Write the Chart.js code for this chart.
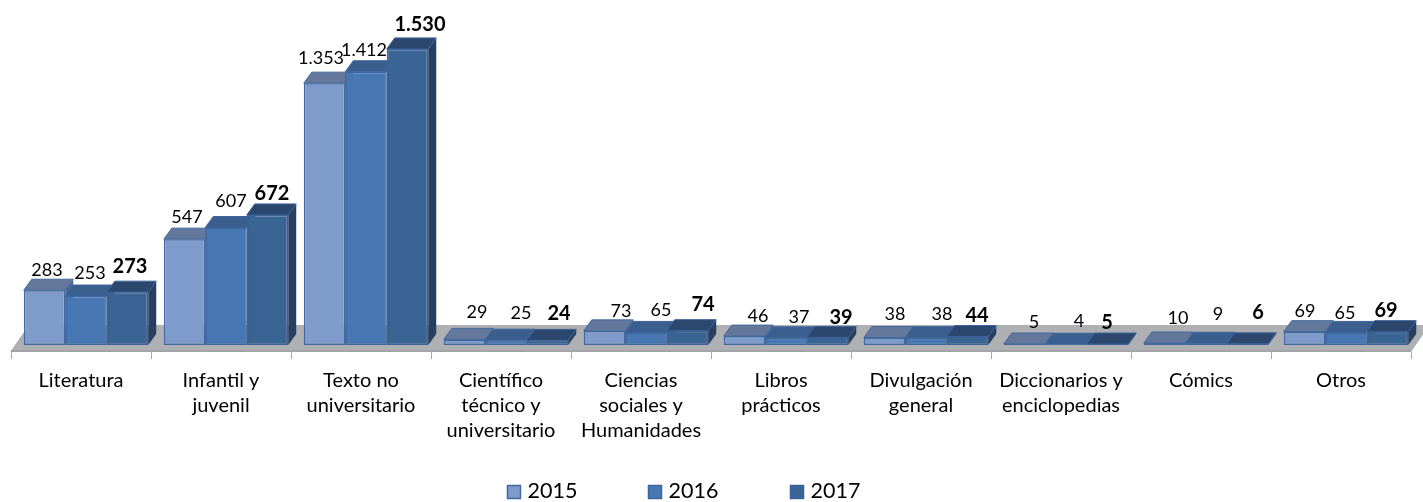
<!DOCTYPE html>
<html><head><meta charset="utf-8">
<style>html,body{margin:0;padding:0;background:#fff}#w{width:1423px;height:502px}</style>
<script src="https://cdn.jsdelivr.net/npm/chart.js@4"></script></head>
<body><div id="w"><canvas id="c"></canvas></div>
<script>
const categories=[["Literatura"],["Infantil y","juvenil"],["Texto no","universitario"],["Científico","técnico y","universitario"],["Ciencias","sociales y","Humanidades"],["Libros","prácticos"],["Divulgación","general"],["Diccionarios y","enciclopedias"],["Cómics"],["Otros"]];
const series2015=[283,547,1353,29,73,46,38,5,10,69];
const series2016=[253,607,1412,25,65,37,38,4,9,65];
const series2017=[273,672,1530,24,74,39,44,5,6,69];
const seriesNames=["2015","2016","2017"];
// hand placement of the value labels relative to each bar
const labelDx=[[2.5,2.5,-3.5,12.5,16.5,13.5,10.5,9.5,13.5,0.5],[4,5,-2,15,15,13,16,13,12,-1],[2.5,4.5,12.5,11.5,15.5,13.5,9.5,-0.5,10.5,-1.5]];
const labelDy=[[20,22,25,27,20,20,23,22,25,20],[23,26,22,27,22,21,23,23,29,19],[26,21,24,27,26,20,21,21,31,21]];
const FONT='Lato, "Open Sans", sans-serif';
const front=['#7F9BCB','#4878B4','#3A6494'],top3=['#64789B','#3A5F8F','#2C476E'],side=['#4A6690','#2F507C','#273F61'],edge=['#41689F','#3D659F','#3A6298'];
const DX=8,DY=11;
const fmt=v=>String(v).replace(/\B(?=(\d{3})+$)/g,'.');
const poly=(ctx,p,fill,stroke)=>{ctx.beginPath();p.forEach((q,i)=>i?ctx.lineTo(q[0],q[1]):ctx.moveTo(q[0],q[1]));ctx.closePath();ctx.fillStyle=fill;ctx.fill();if(stroke){ctx.strokeStyle=stroke;ctx.lineWidth=1;ctx.stroke();}};
const scene={id:'scene',
 beforeDatasetsDraw(ch){
  const ctx=ch.ctx,x=ch.scales.x,b=ch.scales.y.getPixelForValue(0);
  ctx.save();
  const l=x.left-5,r=x.right-5;
  poly(ctx,[[l,b+7],[r,b+7],[r+18.5,b-20],[l+18.5,b-20]],'#AEB0B3');
  ctx.fillStyle='#A2A4A7';ctx.fillRect(l,b+5,r-l,2);
  ctx.strokeStyle='#A6A8AA';ctx.lineWidth=1;
  for(let i=0;i<=categories.length;i++){const t=Math.round(l+(r-l)*i/categories.length)+.5;ctx.beginPath();ctx.moveTo(t,b+7);ctx.lineTo(t,b+14);ctx.stroke();}
  ctx.beginPath();ctx.moveTo(l,b+7);ctx.lineTo(l+13,b-12);ctx.strokeStyle='#9A9C9F';ctx.stroke();
  ch.data.datasets.forEach((d,s)=>{
   ch.getDatasetMeta(s).data.forEach(bar=>{
    const L=bar.x-bar.width/2,R=bar.x+bar.width/2,T=bar.y;
    poly(ctx,[[R,T],[R+DX,T-DY],[R+DX,b-DY],[R,b]],side[s]);
    poly(ctx,[[L,T],[R,T],[R+DX,T-DY],[L+DX,T-DY]],top3[s],edge[s]);
   });
  });
  ctx.restore();
 },
 afterDatasetsDraw(ch){
  const ctx=ch.ctx;ctx.save();ctx.textAlign='center';ctx.textBaseline='middle';ctx.fillStyle='#000';
  ch.data.datasets.forEach((d,s)=>{
   ctx.font=(s===2?'bold 20px ':'18px ')+FONT;
   ch.getDatasetMeta(s).data.forEach((bar,i)=>ctx.fillText(fmt(d.data[i]),bar.x+labelDx[s][i],bar.y-labelDy[s][i]));
  });
  // legend
  const lx=[507.5,648.5,790.5];
  ctx.textAlign='left';ctx.font='21.5px '+FONT;
  ch.data.datasets.forEach((d,s)=>{
   ctx.fillStyle=front[s];ctx.fillRect(lx[s],485.5,13,13);
   ctx.strokeStyle=edge[s];ctx.lineWidth=1.5;ctx.strokeRect(lx[s],485.5,13,13);
   ctx.fillStyle='#000';ctx.fillText(d.label,lx[s]+20,491.5);
  });
  ctx.restore();
 }};
const mk=(v,s)=>({label:seriesNames[s],data:v,backgroundColor:front[s],borderColor:edge[s],borderWidth:1.5,borderSkipped:false,categoryPercentage:.889,barPercentage:1});
new Chart(document.getElementById('c'),{type:'bar',
 data:{labels:categories,datasets:[mk(series2015,0),mk(series2016,1),mk(series2017,2)]},
 plugins:[scene],
 options:{responsive:true,maintainAspectRatio:false,animation:false,
  layout:{padding:{left:16,right:7,top:16,bottom:0}},
  plugins:{legend:{display:false},tooltip:{enabled:false}},
  scales:{
   x:{grid:{display:false},border:{display:false},
      afterFit(s){s.height=157;},
      ticks:{autoSkip:false,maxRotation:0,minRotation:0,labelOffset:-5,padding:15,color:'#000',font:{family:FONT,size:20,lineHeight:1.25}}},
   y:{display:false,min:0,max:1700}
  }}});
</script></body></html>
